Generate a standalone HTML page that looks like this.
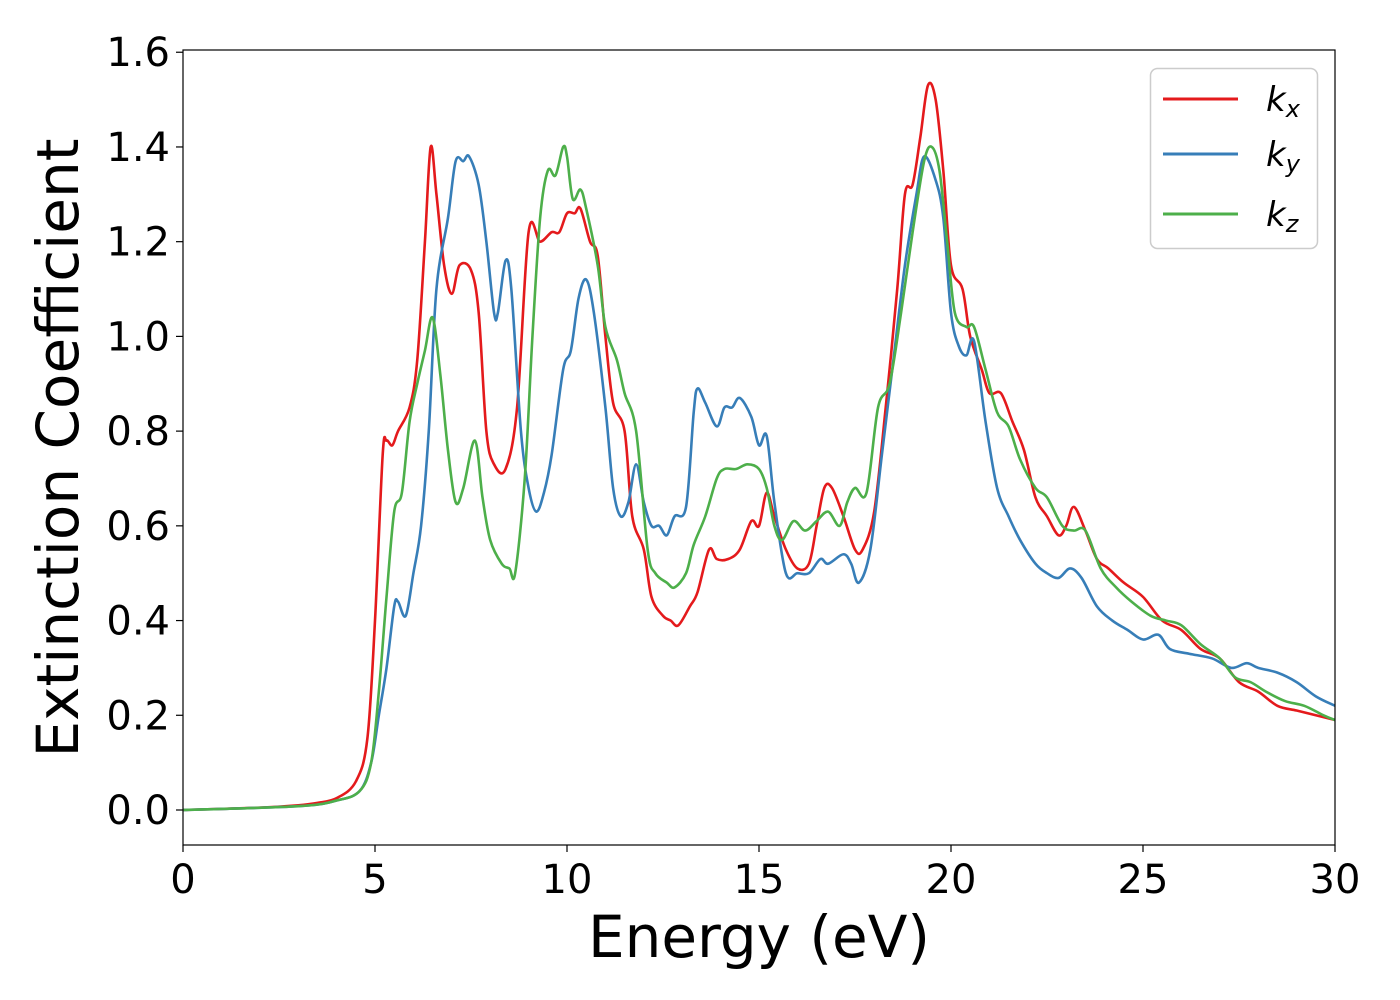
<!DOCTYPE html>
<html><head><meta charset="utf-8"><style>
html,body{margin:0;padding:0;background:#fff;}
svg{display:block;font-family:"DejaVu Sans","Liberation Sans",sans-serif;}
</style></head><body>
<svg id="chart" width="1400" height="1000" xmlns="http://www.w3.org/2000/svg">
<g id="grid"></g>
<g id="series" clip-path="url(#clip)"></g>
<defs><clipPath id="clip"><rect x="183" y="50" width="1152" height="795"/></clipPath></defs>
<rect x="183" y="50" width="1152" height="795" fill="none" stroke="#000" stroke-width="1.2"/>
<g id="ticks"></g>
<text x="759" y="957" font-size="58" text-anchor="middle">Energy (eV)</text>
<text transform="translate(78,448) rotate(-90)" font-size="58" text-anchor="middle">Extinction Coefficient</text>
<g>
<rect x="1150.5" y="68.5" width="167" height="180" rx="7" fill="#fff" fill-opacity="0.8" stroke="#ccc" stroke-width="1.5"/>
<line x1="1163" y1="99" x2="1238" y2="99" stroke="#e41a1c" stroke-width="3"/>
<text x="1266" y="111" font-size="34" font-style="italic">k<tspan font-size="24" dy="6">x</tspan></text>
<line x1="1163" y1="154" x2="1238" y2="154" stroke="#377eb8" stroke-width="3"/>
<text x="1266" y="166" font-size="34" font-style="italic">k<tspan font-size="24" dy="6">y</tspan></text>
<line x1="1163" y1="214" x2="1238" y2="214" stroke="#4daf4a" stroke-width="3"/>
<text x="1266" y="226" font-size="34" font-style="italic">k<tspan font-size="24" dy="6">z</tspan></text>
</g>
</svg>
<script>
const xTicks=[0,5,10,15,20,25,30];
const yTicks=[0.0,0.2,0.4,0.6,0.8,1.0,1.2,1.4,1.6];
const kxE=[0,2,3,3.5,4,4.5,4.8,5.0,5.2,5.3,5.45,5.6,5.9,6.1,6.3,6.45,6.6,6.8,7.0,7.2,7.5,7.7,7.9,8.1,8.4,8.7,9.0,9.3,9.6,9.8,10.0,10.2,10.35,10.6,10.8,11.0,11.2,11.5,11.7,12.0,12.2,12.5,12.7,12.9,13.2,13.4,13.7,13.9,14.2,14.5,14.8,15.0,15.2,15.4,15.7,16.0,16.3,16.5,16.7,16.9,17.2,17.5,17.7,18.0,18.3,18.6,18.8,19.0,19.2,19.4,19.6,19.8,20.0,20.3,20.5,20.8,21.0,21.3,21.6,21.9,22.2,22.5,22.8,23.0,23.2,23.5,23.8,24.1,24.5,25.0,25.5,26.0,26.5,27.0,27.5,28.0,28.5,29.0,29.5,30];
const kxV=[0,0.005,0.01,0.015,0.025,0.06,0.15,0.4,0.75,0.78,0.77,0.8,0.85,0.95,1.2,1.40,1.3,1.15,1.09,1.15,1.14,1.05,0.8,0.73,0.72,0.85,1.22,1.2,1.22,1.22,1.26,1.26,1.27,1.2,1.17,1.0,0.86,0.8,0.62,0.55,0.45,0.41,0.4,0.39,0.43,0.46,0.55,0.53,0.53,0.55,0.61,0.6,0.67,0.62,0.55,0.51,0.52,0.6,0.68,0.68,0.62,0.55,0.55,0.63,0.85,1.1,1.3,1.32,1.42,1.53,1.5,1.35,1.15,1.1,1.0,0.93,0.88,0.88,0.82,0.76,0.66,0.62,0.58,0.6,0.64,0.59,0.53,0.51,0.48,0.45,0.4,0.38,0.34,0.32,0.27,0.25,0.22,0.21,0.2,0.19];
const kyE=[0,3,4,4.6,4.9,5.1,5.3,5.5,5.6,5.8,6.0,6.2,6.4,6.6,6.9,7.1,7.3,7.45,7.7,7.9,8.1,8.2,8.4,8.55,8.8,9.0,9.2,9.4,9.6,9.9,10.1,10.3,10.5,10.7,11.0,11.2,11.4,11.6,11.8,12.0,12.2,12.4,12.6,12.8,13.1,13.3,13.4,13.6,13.9,14.1,14.3,14.5,14.8,15.0,15.2,15.4,15.7,16.0,16.3,16.6,16.8,17.2,17.4,17.6,17.9,18.2,18.5,18.8,19.1,19.3,19.6,19.8,20.0,20.2,20.4,20.6,20.9,21.2,21.5,21.8,22.2,22.5,22.8,23.1,23.4,23.8,24.2,24.6,25.0,25.4,25.7,26.2,26.8,27.3,27.7,28.0,28.5,29.0,29.5,30];
const kyV=[0,0.008,0.02,0.04,0.1,0.2,0.3,0.43,0.44,0.41,0.5,0.6,0.8,1.1,1.25,1.37,1.37,1.38,1.32,1.2,1.05,1.05,1.16,1.1,0.8,0.68,0.63,0.67,0.75,0.93,0.97,1.08,1.12,1.05,0.85,0.68,0.62,0.65,0.73,0.65,0.6,0.6,0.58,0.62,0.64,0.84,0.89,0.86,0.81,0.85,0.85,0.87,0.83,0.77,0.79,0.65,0.5,0.5,0.5,0.53,0.52,0.54,0.52,0.48,0.55,0.75,0.95,1.15,1.3,1.38,1.33,1.25,1.05,0.98,0.96,0.99,0.82,0.68,0.62,0.57,0.52,0.5,0.49,0.51,0.49,0.43,0.4,0.38,0.36,0.37,0.34,0.33,0.32,0.3,0.31,0.3,0.29,0.27,0.24,0.22];
const kzE=[0,3,4,4.6,4.9,5.1,5.3,5.5,5.7,5.9,6.1,6.3,6.5,6.7,6.9,7.1,7.3,7.6,7.8,8.0,8.3,8.5,8.65,8.9,9.1,9.3,9.5,9.7,9.9,10.0,10.15,10.35,10.5,10.8,11.0,11.3,11.5,11.8,12.1,12.3,12.6,12.8,13.1,13.3,13.6,13.9,14.1,14.4,14.7,15.0,15.2,15.4,15.6,15.9,16.2,16.5,16.8,17.1,17.3,17.5,17.8,18.1,18.4,18.7,19.0,19.3,19.5,19.7,19.9,20.1,20.4,20.6,20.9,21.2,21.5,21.8,22.2,22.5,22.9,23.2,23.5,23.9,24.3,24.7,25.2,25.6,26.0,26.5,27.0,27.4,27.8,28.2,28.7,29.2,29.7,30];
const kzV=[0,0.008,0.02,0.04,0.1,0.25,0.45,0.63,0.67,0.82,0.9,0.97,1.04,0.92,0.76,0.65,0.68,0.78,0.66,0.57,0.52,0.51,0.5,0.7,1.0,1.25,1.35,1.34,1.4,1.38,1.29,1.31,1.27,1.15,1.02,0.95,0.88,0.8,0.55,0.5,0.48,0.47,0.5,0.56,0.62,0.7,0.72,0.72,0.73,0.72,0.68,0.6,0.57,0.61,0.59,0.61,0.63,0.6,0.65,0.68,0.67,0.85,0.9,1.05,1.22,1.37,1.4,1.35,1.2,1.05,1.02,1.02,0.93,0.84,0.81,0.74,0.68,0.66,0.6,0.59,0.59,0.51,0.47,0.44,0.41,0.4,0.39,0.35,0.32,0.28,0.27,0.25,0.23,0.22,0.2,0.19];

const X0=183,X1=1335,XMIN=0,XMAX=30;
const Y0=810,YPER=473.6;
function xs(v){return X0+(v-XMIN)/(XMAX-XMIN)*(X1-X0);}
function ys(v){return Y0-v*YPER;}
const NS="http://www.w3.org/2000/svg";
const tg=document.getElementById('ticks');
function mk(t,a,p){const e=document.createElementNS(NS,t);for(const k in a)e.setAttribute(k,a[k]);p.appendChild(e);return e;}
xTicks.forEach(v=>{
  const l=mk('line',{x1:xs(v),x2:xs(v),y1:845,y2:852,stroke:'#000','stroke-width':1.2},tg);
  
  
  const t=mk('text',{x:xs(v),y:893,'font-size':40,'text-anchor':'middle'},tg);
  
  
  t.textContent=String(v);
});
yTicks.forEach(v=>{
  const l=mk('line',{x1:176,x2:183,y1:ys(v),y2:ys(v),stroke:'#000','stroke-width':1.2},tg);
  
  
  const t=mk('text',{x:170,y:ys(v)+14,'font-size':40,'text-anchor':'end'},tg);
  
  
  t.textContent=v.toFixed(1);
});
function pathD(E,V){
  const p=E.map((e,i)=>[xs(e),ys(V[i])]);
  let d='M'+p[0][0]+','+p[0][1];
  for(let i=0;i<p.length-1;i++){
    const a=p[Math.max(0,i-1)],b=p[i],c=p[i+1],n=p[Math.min(p.length-1,i+2)];
    const c1x=b[0]+(c[0]-a[0])/6,c1y=b[1]+(c[1]-a[1])/6;
    const c2x=c[0]-(n[0]-b[0])/6,c2y=c[1]-(n[1]-b[1])/6;
    d+=' C'+c1x+','+c1y+' '+c2x+','+c2y+' '+c[0]+','+c[1];
  }
  return d;
}
const sg=document.getElementById('series');
[[kxE,kxV,'#e41a1c','series-kx'],[kyE,kyV,'#377eb8','series-ky'],[kzE,kzV,'#4daf4a','series-kz']].forEach(s=>{
  const p=mk('path',{d:pathD(s[0],s[1]),fill:'none',stroke:s[2],'stroke-width':2.6,'stroke-linejoin':'round'},sg);
  
  
});
</script>
</body></html>
